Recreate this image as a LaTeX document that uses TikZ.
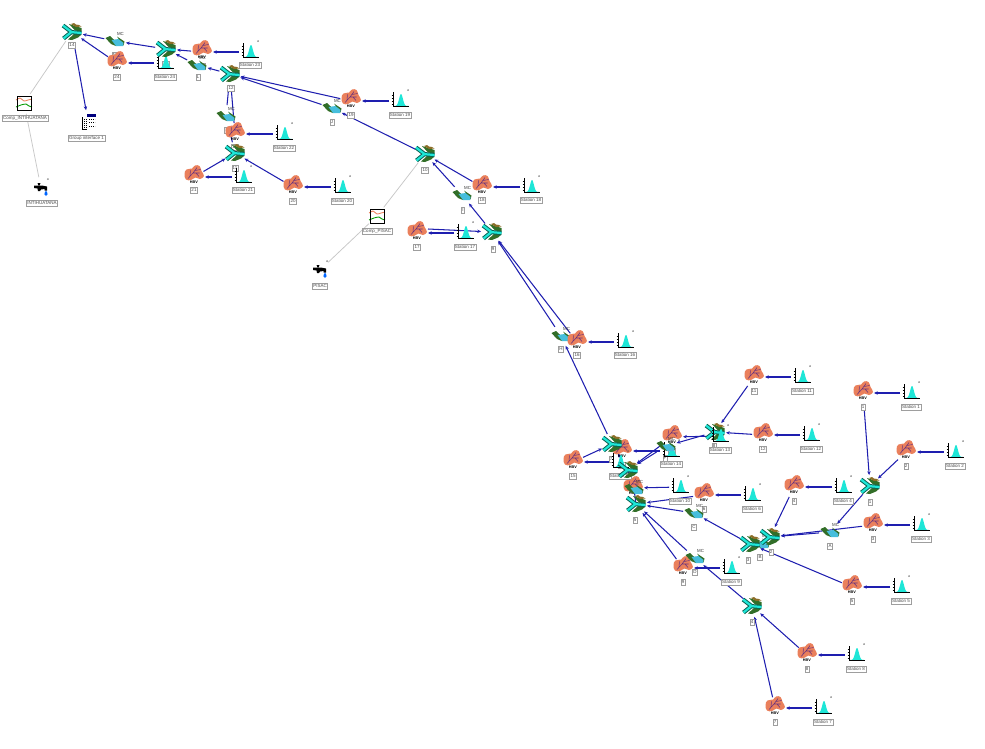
\documentclass[tikz,border=0pt]{standalone}
\usepackage{fontspec}
\setmainfont{Liberation Sans}
\usetikzlibrary{arrows.meta}
\pgfdeclarelayer{back}\pgfdeclarelayer{labs}
\pgfsetlayers{back,labs,main}
\definecolor{flowc}{RGB}{30,30,175}
\definecolor{blobc}{RGB}{234,128,92}
\definecolor{veinc}{RGB}{105,50,125}
\definecolor{cyanc}{RGB}{30,230,215}
\definecolor{teal1}{RGB}{10,100,85}
\definecolor{gr1}{RGB}{50,110,40}
\definecolor{brn}{RGB}{140,110,40}
\definecolor{reachc}{RGB}{70,190,220}
\tikzset{
 hit/.style={circle,minimum size=22pt,inner sep=0pt,outer sep=0pt},
 flow/.style={draw=flowc,line width=1.05pt,-{Stealth[length=3.8pt,width=3.4pt]}},
 plainflow/.style={draw=flowc,line width=1.05pt},
 link/.style={draw=black!22,line width=0.75pt},
 lab/.style={draw=black!38,line width=0.35pt,fill=white,inner sep=0.9pt,minimum height=6.4pt,text=black!70,font=\fontsize{4.5}{5}\selectfont},
 tiny/.style={inner sep=0pt,font=\fontsize{3.6}{4}\selectfont},
 hbv/.pic={
  \fill[blobc] plot[smooth cycle,tension=.7] coordinates{(-9.5,-3)(-7.5,-7.5)(-2,-8.5)(1,-11.5)(5.5,-11)(7.5,-6)(10,-1)(6,2)(1.5,.5)(-3,3)(-8,2.5)};
  \draw[veinc,line width=.55pt] (-6,1.5)--(-1,-4)--(3,-9.5) (-1,-4)--(5.5,-4) (-4,-1.5)--(-3.5,-6.5) (1,-6.5)--(6.5,-7.5) (2,-4)--(5,-.5);
  \node[tiny,font=\bfseries\fontsize{3.8}{4}\selectfont] (-t) at (0,5.2) {HBV};
 },
 station/.pic={
  \fill[cyanc] plot[domain=-6:8.5,samples=30] (\x,{5-12*exp(-(\x-1)*(\x-1)/7)}) -- cycle;
  \draw[black,line width=.75pt] (-7,-9)--(-7,5)--(9,5);
  \draw[black,line width=.5pt] (-8.4,-6)--(-7,-6) (-8.4,-3)--(-7,-3) (-8.4,0)--(-7,0) (-8.4,3)--(-7,3);
  \node[tiny,text=black!70] (-a) at (8,-10) {a};
 },
 junct/.pic={
  \fill[gr1] (-3,-8)--(9.5,-4)--(9.5,-0.5)--(3,-1.5)--cycle;
  \fill[brn] (-1,-8)--(2,-9)--(4,-7.5)--(7,-7)--(9.5,-5.5)--(4,-5)--cycle;
  \fill[gr1] (-4,7.5)--(2,2)--(9.5,2.5)--(6,5.5)--(0,8)--cycle;
  \draw[teal1,line width=4.2pt,line join=miter] (-9,-6.5)--(-0.5,0)--(-8.5,6.5) (-2,0)--(9.5,1);
  \draw[cyanc,line width=2.2pt,line join=miter] (-9,-6.5)--(-0.5,0)--(-8.5,6.5) (-2,0)--(9.5,1);
 },
 reach/.pic={
  \fill[gr1] (-9.5,-3)--(-5,-5)--(1.5,1)--(1,5)--(-4,3)--cycle;
  \fill[gr1] (2,-4.5)--(9.5,0.5)--(8.5,4.5)--(5,0)--cycle;
  \fill[reachc] (-3.5,-1)--(3.5,-2)--(8.5,2)--(8,5)--(1,5)--cycle;
  \node[tiny,text=black!80,font=\fontsize{4.4}{5}\selectfont] (-mc) at (5.5,-7) {MC};
 },
 compic/.pic={
  \draw[blobc,line width=.85pt] plot[smooth] coordinates{(-8,-3)(-4,-5)(0,-2)(4,-3)(8,-4)};
  \draw[green!60!black,line width=.85pt] plot[smooth] coordinates{(-8,4)(-3,2)(2,1)(5,3)(8,4)};
  \draw[black,line width=.85pt] (-7,-7) rectangle (7,7);
 },
 tap/.pic={
  \fill[black] (-7,-2.5)--(1,-2.5)--(6,-1.5)--(6,2.5)--(3.5,2.5)--(3.5,1)--(0,1.5)--(-1,3)--(-3,3)--(-3.5,0.5)--(-7,0)--cycle;
  \fill[black] (-3.5,-5)--(-0.5,-5)--(-1.5,-2.5)--(-2.5,-2.5)--cycle;
  \fill[blue!60!cyan] (5,2.5) .. controls (3,5) and (2.8,8) .. (5,8) .. controls (7.2,8) and (7,5) .. (5,2.5) -- cycle;
  \node[tiny,text=black!70] (-a) at (7,-8) {a};
 },
 gipic/.pic={
  \fill[black!10!blue!55!black] (-1,-7)--(8,-7)--(8,-4.5)--(-1,-4.5)--cycle;
  \draw[black,line width=.6pt] (-6,-4)--(-6,8)--(-1,8);
  \draw[black,line width=.8pt,dash pattern=on 1.2pt off .8pt] (-4,-2)--(-4,7) (-1.7,-2)--(-1.7,7);
  \draw[black,line width=.8pt,dash pattern=on 1.2pt off .8pt] (1,-2)--(7,-2) (1,1.5)--(7,1.5) (1,5)--(7,5);
 },
}
\newcommand{\Icon}[4]{\node[hit] (#2) at (#3,#4) {}; \pic (#2p) at (#2) {#1};}
\newcommand{\Lab}[4]{\begin{pgfonlayer}{labs}\node[lab] (#1) at (#2,#3) {#4};\end{pgfonlayer}}
\begin{document}
\begin{tikzpicture}[x=1pt,y=-1pt]
\useasboundingbox (0,0) rectangle (985,748);
% labels
\Lab{l14}{72}{45}{14}\Lab{l13}{166}{64}{13}\Lab{l12}{231}{88}{12}\Lab{l11}{235}{168}{11}\Lab{l10}{425}{170}{10}
\Lab{l9}{493}{249}{9}\Lab{l1j}{870}{502}{1}\Lab{l2j}{771}{552}{2}\Lab{l3j}{748}{560}{3}\Lab{l4j}{752}{622}{4}
\Lab{l5j}{635}{520}{5}\Lab{l6j}{628}{484}{6}\Lab{l7j}{611}{459}{7}\Lab{l8j}{714}{446}{8}
\Lab{lA}{830}{546}{A}\Lab{lB}{760}{557}{B}\Lab{lC}{694}{527}{C}\Lab{lD}{695}{572}{D}\Lab{lF}{665}{458}{F}
\Lab{lH}{561}{349}{H}\Lab{lI}{463}{210}{I}\Lab{lJ}{332}{122}{J}\Lab{lK}{227}{130}{K}\Lab{lL}{198}{77}{L}\Lab{lM}{115}{55}{M}
\Lab{lb1}{863}{407}{1}\Lab{lb2}{906}{466}{2}\Lab{lb3}{873}{539}{3}\Lab{lb4}{794}{501}{4}\Lab{lb5}{852}{601}{5}\Lab{lb6}{704}{509}{6}
\Lab{lb7}{775}{722}{7}\Lab{lb8}{807}{669}{8}\Lab{lb9}{683}{582}{9}\Lab{lb11}{754}{391}{11}\Lab{lb12}{763}{449}{12}
\Lab{lb13}{672}{451}{13}\Lab{lb14}{622}{465}{14}\Lab{lb15}{573}{476}{15}\Lab{lb16}{577}{355}{16}\Lab{lb17}{417}{247}{17}\Lab{lb18}{482}{200}{18}
\Lab{lb19}{351}{115}{19}\Lab{lb20}{293}{201}{20}\Lab{lb21}{194}{190}{21}\Lab{lb22}{235}{147}{22}\Lab{lb23}{202}{66}{23}\Lab{lb24}{117}{77}{24}
\Lab{ls1}{911}{407}{Station 1}\Lab{ls2}{955}{466}{Station 2}\Lab{ls3}{921}{539}{Station 3}\Lab{ls4}{843}{501}{Station 4}\Lab{ls5}{901}{601}{Station 5}
\Lab{ls6}{752}{509}{Station 6}\Lab{ls7}{823}{722}{Station 7}\Lab{ls8}{856}{669}{Station 8}\Lab{ls9}{731}{582}{Station 9}\Lab{ls10}{680}{501}{Station 10}
\Lab{ls11}{802}{391}{Station 11}\Lab{ls12}{811}{449}{Station 12}\Lab{ls13}{720}{450}{Station 13}\Lab{ls14}{671}{464}{Station 14}\Lab{ls15}{620}{476}{Station 15}
\Lab{ls16}{625}{355}{Station 16}\Lab{ls17}{465}{247}{Station 17}\Lab{ls18}{531}{200}{Station 18}\Lab{ls19}{400}{115}{Station 19}\Lab{ls20}{342}{201}{Station 20}
\Lab{ls21}{243}{190}{Station 21}\Lab{ls22}{284}{148}{Station 22}\Lab{ls23}{250}{65}{Station 23}\Lab{ls24}{165}{77}{Station 24}
\Lab{lc1}{25}{118}{Comp\_INTIHUATANA}\Lab{lc2}{377}{231}{Comp\_PISAC}\Lab{lt1}{42}{203}{INTIHUATANA}\Lab{lt2}{320}{286}{PISAC}\Lab{lgi}{86.5}{138}{Group interface 1}
% icons
\Icon{reach}{rH}{561}{336}
\Icon{hbv}{b1}{863}{393}\Icon{hbv}{b2}{906}{452}\Icon{hbv}{b3}{873}{525}\Icon{hbv}{b4}{794}{487}\Icon{hbv}{b5}{852}{587}\Icon{hbv}{b6}{704}{495}
\Icon{hbv}{b7}{775}{708}\Icon{hbv}{b8}{807}{655}\Icon{hbv}{b9}{683}{568}\Icon{hbv}{b10}{633}{488}\Icon{hbv}{b11}{754}{377}\Icon{hbv}{b12}{763}{435}
\Icon{hbv}{b13}{672}{437}\Icon{hbv}{b14}{622}{451}\Icon{hbv}{b15}{573}{462}\Icon{hbv}{b16}{577}{342}\Icon{hbv}{b17}{417}{233}\Icon{hbv}{b18}{482}{187}
\Icon{hbv}{b19}{351}{101}\Icon{hbv}{b20}{293}{187}\Icon{hbv}{b21}{194}{177}\Icon{hbv}{b22}{235}{134}\Icon{hbv}{b23}{202}{52}\Icon{hbv}{b24}{117}{63}
\Icon{junct}{j7}{612}{444}\Icon{junct}{j8}{715}{432}
\Icon{station}{s1}{911}{393}\Icon{station}{s2}{955}{452}\Icon{station}{s3}{921}{525}\Icon{station}{s4}{843}{487}\Icon{station}{s5}{901}{587}
\Icon{station}{s6}{752}{495}\Icon{station}{s7}{823}{708}\Icon{station}{s8}{856}{655}\Icon{station}{s9}{731}{568}\Icon{station}{s10}{680}{487}
\Icon{station}{s11}{802}{377}\Icon{station}{s12}{811}{435}\Icon{station}{s13}{720}{436}\Icon{station}{s14}{671}{451}\Icon{station}{s15}{620}{462}
\Icon{station}{s16}{625}{342}\Icon{station}{s17}{465}{233}\Icon{station}{s18}{531}{187}\Icon{station}{s19}{400}{101}\Icon{station}{s20}{342}{187}
\Icon{station}{s21}{243}{177}\Icon{station}{s22}{284}{134}\Icon{station}{s23}{250}{52}\Icon{station}{s24}{165}{63}
\Icon{reach}{rA}{830}{532}\Icon{reach}{rB}{760}{543}\Icon{reach}{rC}{694}{513}\Icon{reach}{rD}{695}{558}\Icon{reach}{rE}{634}{489}\Icon{reach}{rF}{666}{446}
\Icon{reach}{rI}{462}{195}\Icon{reach}{rJ}{332}{108}\Icon{reach}{rK}{226}{116}\Icon{reach}{rL}{197}{65}\Icon{reach}{rM}{115}{41}
\Icon{junct}{j1}{870}{486}\Icon{junct}{j2}{770}{537}\Icon{junct}{j3}{750}{544}\Icon{junct}{j4}{752}{606}\Icon{junct}{j5}{636}{504}\Icon{junct}{j6}{628}{470}
\Icon{junct}{j9}{492}{232}\Icon{junct}{j10}{425}{154}\Icon{junct}{j11}{235}{153}\Icon{junct}{j12}{230}{74}\Icon{junct}{j13}{166}{49}\Icon{junct}{j14}{72}{32}
\Icon{compic}{c1}{24}{103}\Icon{compic}{c2}{377}{216}
\Icon{tap}{t1}{41}{188}\Icon{tap}{t2}{320}{270}
\Icon{gipic}{gi}{88}{121}
% connectors
\begin{pgfonlayer}{back}
\foreach \a/\b in {s1/b1,s2/b2,s3/b3,s4/b4,s5/b5,s6/b6,s7/b7,s8/b8,s9/b9,s10/b10,s11/b11,s12/b12,s13/b13,s14/b14,s15/b15,s16/b16,s17/b17,s18/b18,s19/b19,s20/b20,s21/b21,s22/b22,s23/b23,s24/b24,
 b23/j13,j13/rM,rM/j14,b24/j14,j14/gi,j12/rL,rL/j13,rK/j12,b22/j12,j11/rK,b21/j11,b20/j11,
 b19/j12,rJ/j12,j10/rJ,b18/j10,rI/j10,j9/rI,rH/j9,b16/j9,j7/rH,b11/j8,b12/j8,j8/rF,rF/j6,b13/j6,b15/j7,j6/j7,
 b6/j5,rC/j5,j3/rC,b9/j5,rD/j5,j4/rD,b7/j4,b8/j4,b5/j3,rA/j2,b3/j2,b4/j2,j1/rA,b1/j1,b2/j1}
 {\draw[flow] (\a) -- (\b);}
\draw[flow] ([yshift=4pt]b17.east) -- (j9);
\foreach \a/\b in {j5/rE,rE/j6,b10/j6,j2/rB,rB/j3}
 {\draw[plainflow] (\a.center) -- (\b.center);}
\foreach \a/\b in {j14/c1,c1/t1,j10/c2,c2/t2}
 {\draw[link] (\a) -- (\b);}
\end{pgfonlayer}
\end{tikzpicture}
\end{document}
